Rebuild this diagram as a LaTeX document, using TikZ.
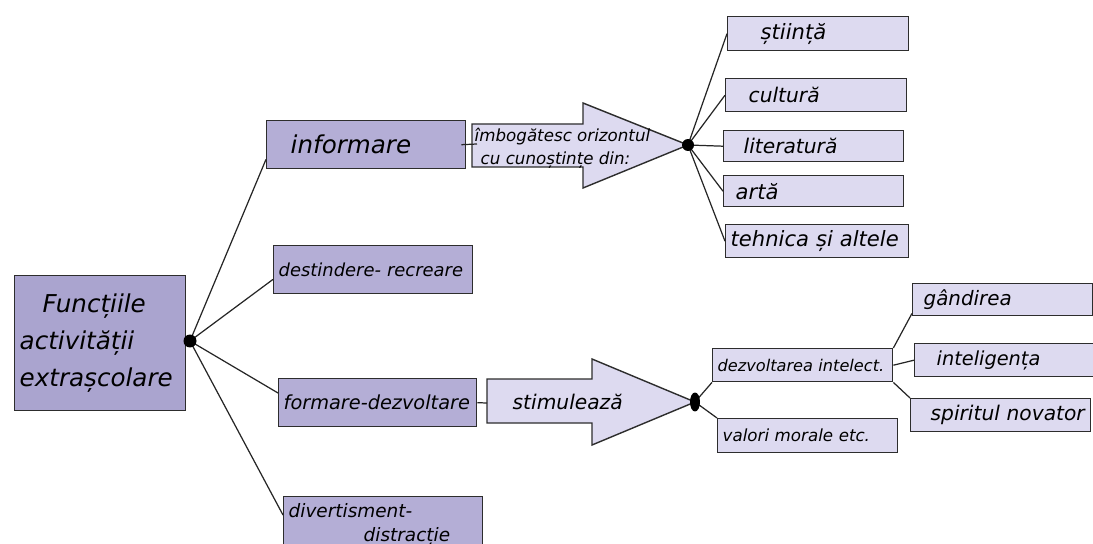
\documentclass[tikz,border=0pt]{standalone}
\usepackage{fontspec}
\setmainfont{DejaVu Sans}
\usetikzlibrary{calc}
\definecolor{boxmain}{RGB}{170,164,207}
\definecolor{boxdark}{RGB}{180,174,214}
\definecolor{boxlight}{RGB}{221,218,240}
\definecolor{edge}{RGB}{45,45,45}

\begin{document}
\begin{tikzpicture}[
  x=0.02cm, y=-0.02cm,
  line width=0.8pt,
  box/.style={draw=edge, anchor=north west, align=left, inner xsep=0.1cm, inner ysep=0pt},
  dbox/.style={box, fill=boxdark},
  lbox/.style={box, fill=boxlight},
  link/.style={draw=black!85, line width=0.7pt},
  bigarrow/.style={draw=edge, fill=boxlight, line join=miter},
]
\useasboundingbox (0,0) rectangle (1093,544);
% root and first level
\node[box, fill=boxmain, text width=3.22cm, minimum height=2.7cm,
  font=\itshape\fontsize{14}{21}\selectfont] (fun) at (14,275)
  {\hspace*{0.46cm}Funcțiile\\activității\\extrașcolare};
\node[dbox, text width=3.78cm, minimum height=0.96cm, font=\itshape\fontsize{14}{17}\selectfont]
  (info) at (266,120) {\hspace*{0.38cm}informare};
\node[dbox, text width=3.78cm, minimum height=0.96cm, font=\itshape\fontsize{10.2}{13}\selectfont]
  (dest) at (273,245) {\mbox{destindere- recreare}};
\node[dbox, text width=3.76cm, minimum height=0.96cm, font=\itshape\fontsize{11}{13}\selectfont]
  (form) at (278,378) {\mbox{formare-dezvoltare}};
\node[dbox, text width=3.78cm, minimum height=1.12cm, font=\itshape\fontsize{10.5}{14}\selectfont]
  (div) at (283,496) {divertisment-\\\hspace*{1.5cm}distracție};

% big arrows
\draw[bigarrow] (472,124) -- (583,124) -- (583,103) -- (688,145) -- (583,188)
  -- (583,167) -- (472,167) -- cycle;
\coordinate (a1in) at (472,144);
\coordinate (h2) at (688,145);
\node[anchor=west, align=left, inner sep=0pt, font=\itshape\fontsize{9.5}{13}\selectfont]
  (a1txt) at (474,148) {îmbogătesc orizontul\\\hspace*{0.12cm}cu cunoștințe din:};

\draw[bigarrow] (487,379) -- (592,379) -- (592,359) -- (695,402) -- (592,445)
  -- (592,423) -- (487,423) -- cycle;
\coordinate (a2in) at (487,403);
\coordinate (h3) at (695,402);
\node[anchor=west, inner sep=0pt, font=\itshape\fontsize{11.5}{14}\selectfont]
  (a2txt) at (512,402) {stimulează};

% domains
\node[lbox, text width=3.42cm, minimum height=0.68cm, font=\itshape\fontsize{12}{14}\selectfont]
  (sti) at (727,16) {\hspace*{0.56cm}știință};
\node[lbox, text width=3.42cm, minimum height=0.66cm, font=\itshape\fontsize{11.5}{14}\selectfont]
  (cul) at (725,78) {\hspace*{0.36cm}cultură};
\node[lbox, text width=3.40cm, minimum height=0.62cm, font=\itshape\fontsize{11.5}{14}\selectfont]
  (lit) at (723,130) {\hspace*{0.3cm}literatură};
\node[lbox, text width=3.40cm, minimum height=0.62cm, font=\itshape\fontsize{12}{14}\selectfont]
  (art) at (723,175) {\hspace*{0.14cm}artă};
\node[lbox, text width=3.46cm, minimum height=0.66cm, font=\itshape\fontsize{12}{14}\selectfont]
  (teh) at (725,224) {\mbox{tehnica și altele}};

% development branch
\node[lbox, text width=3.40cm, minimum height=0.66cm, font=\itshape\fontsize{9.2}{12}\selectfont]
  (dez) at (712,348) {\mbox{dezvoltarea intelect.}};
\node[lbox, text width=3.40cm, minimum height=0.68cm, font=\itshape\fontsize{9.5}{12}\selectfont]
  (val) at (717,418) {\mbox{valori morale etc.}};
\node[lbox, text width=3.40cm, minimum height=0.64cm, font=\itshape\fontsize{11.3}{14}\selectfont]
  (gan) at (912,283) {\hspace*{0.12cm}gândirea};
\node[lbox, text width=3.40cm, minimum height=0.66cm, font=\itshape\fontsize{11}{14}\selectfont]
  (int) at (914,343) {\hspace*{0.34cm}inteligența};
\node[lbox, text width=3.40cm, minimum height=0.66cm, font=\itshape\fontsize{11.5}{14}\selectfont]
  (spi) at (910,398) {\hspace*{0.3cm}\mbox{spiritul novator}};

% connectors
\coordinate (h1) at (190,341);
\draw[link] (h1) -- ([yshift=0.2cm]info.south west);
\draw[link] (h1) -- ([yshift=0.3cm]dest.south west);
\draw[link] (h1) -- ([yshift=-0.3cm]form.north west);
\draw[link] (h1) -- ([yshift=-0.38cm]div.north west);
\draw[link] ([xshift=-0.1cm]info.east) -- ([xshift=0.1cm]a1in);
\draw[link] (form.east) -- (a2in);
\foreach \n in {sti,cul,lit,art,teh}
  \draw[link] (h2) -- (\n.west);
\draw[link] (h3) -- (dez.south west);
\draw[link] (h3) -- (val.north west);
\draw[link] (dez.north east) -- ([yshift=0.06cm]gan.south west);
\draw[link] (dez.east) -- (int.west);
\draw[link] (dez.south east) -- (spi.north west);
% hubs
\fill (h1) circle [radius=0.13cm];
\fill (h2) circle [radius=0.12cm];
\fill (h3) ellipse [x radius=0.1cm, y radius=0.19cm];
\end{tikzpicture}
\end{document}
